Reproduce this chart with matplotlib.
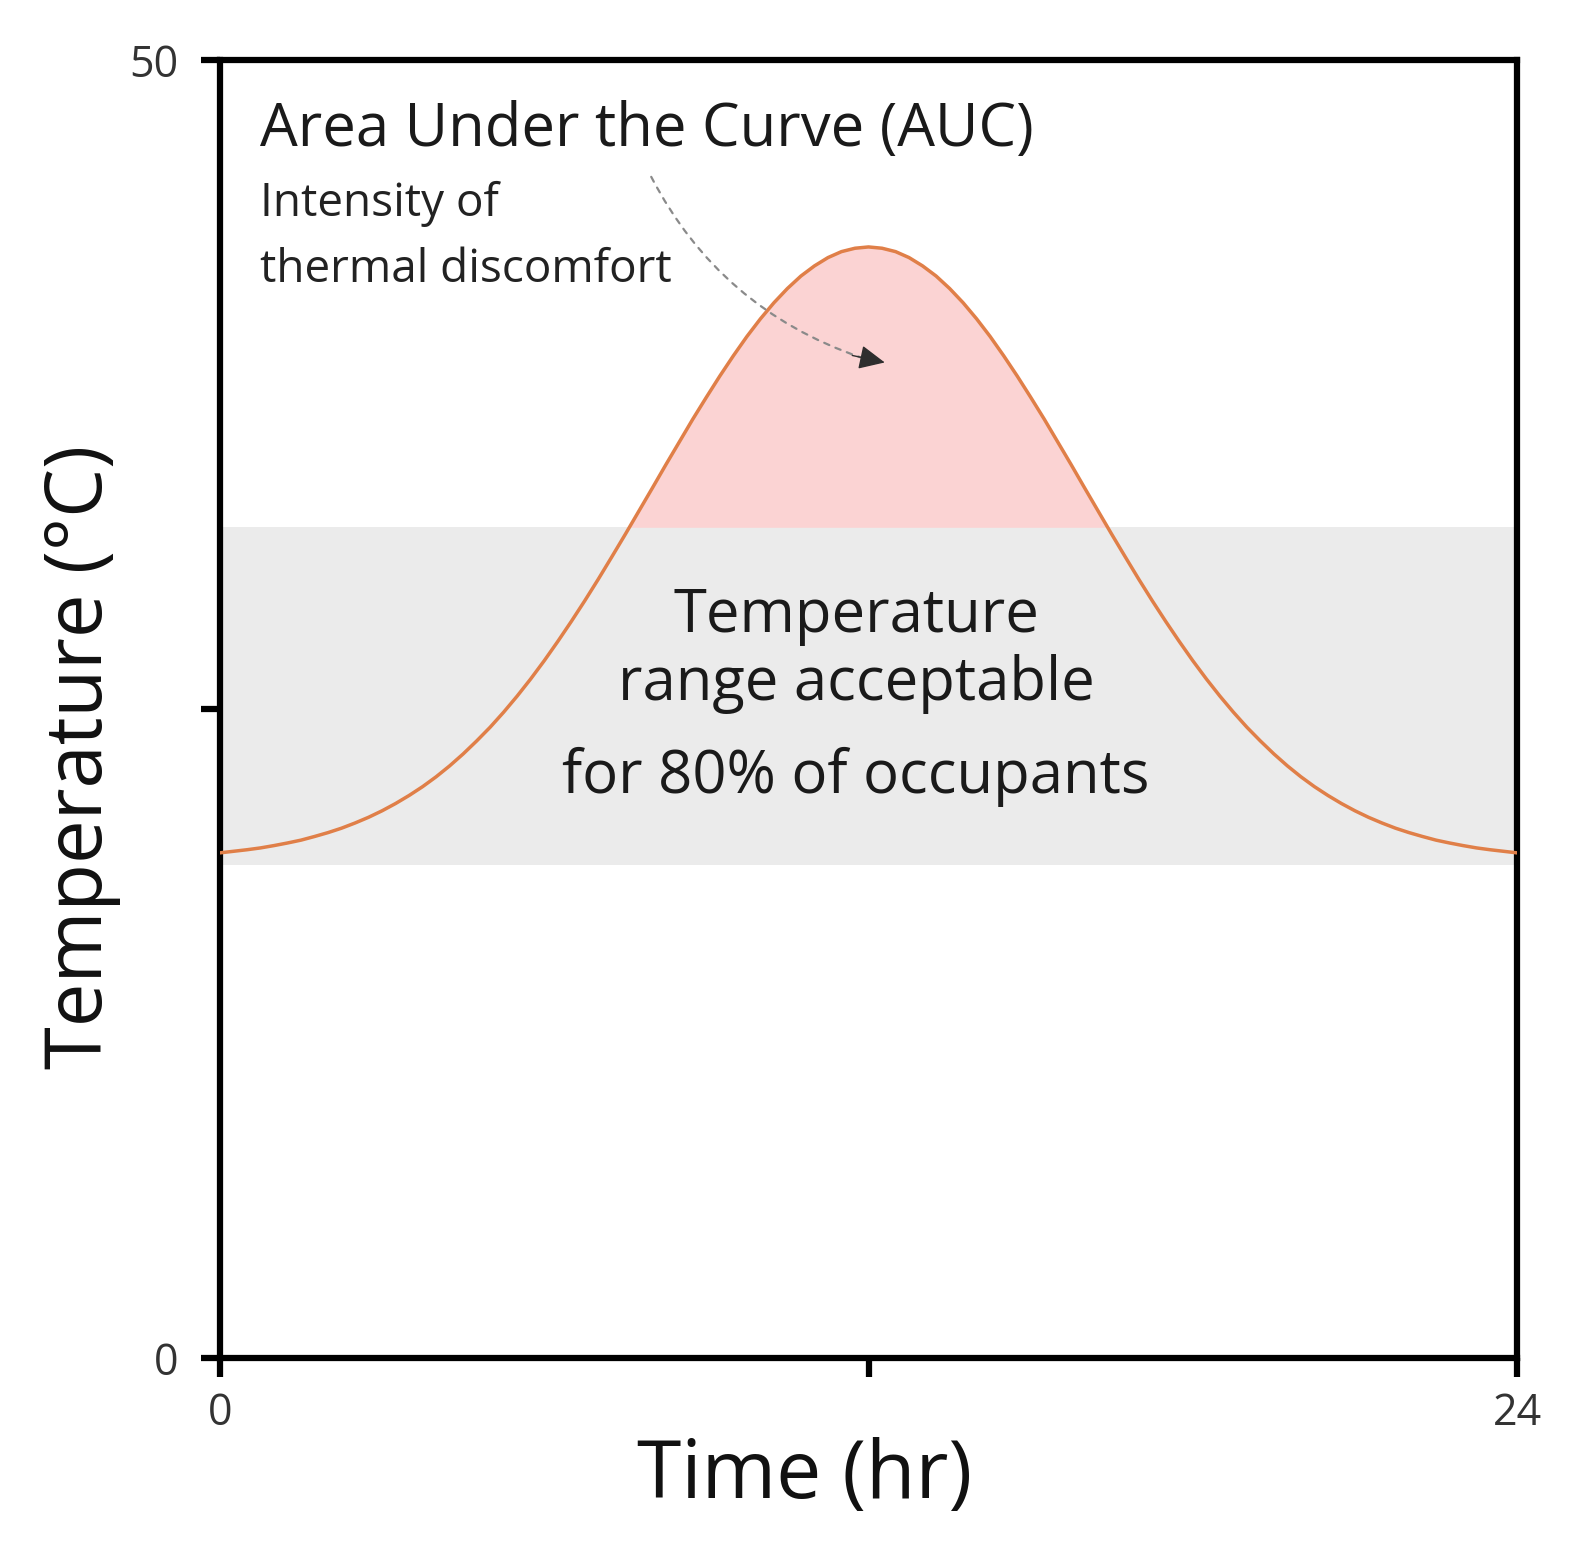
import matplotlib
matplotlib.use("Agg")
import matplotlib.pyplot as plt
import numpy as np

plt.rcParams['font.family'] = ['Open Sans', 'DejaVu Sans']

# Data (hours, °C): rising half of the symmetric curve
hours = [i * 0.25 for i in range(97)]
temps_rising = [19.46, 19.52, 19.58, 19.65, 19.74, 19.84, 19.95, 20.09, 20.24, 20.41,
                20.61, 20.83, 21.08, 21.36, 21.67, 22.01, 22.39, 22.81, 23.27, 23.77,
                24.30, 24.88, 25.50, 26.16, 26.86, 27.60, 28.37, 29.17, 30.00, 30.86,
                31.73, 32.62, 33.51, 34.41, 35.29, 36.17, 37.01, 37.83, 38.61, 39.35,
                40.03, 40.65, 41.20, 41.68, 42.07, 42.39, 42.62, 42.75, 42.80]
temps = temps_rising + temps_rising[-2::-1]

comfort_low = 19.0
comfort_high = 32.0
x_ticks = [0, 12, 24]
x_ticklabels = ["0", "", "24"]
y_ticks = [0, 25, 50]
y_ticklabels = ["0", "", "50"]

fig = plt.figure(figsize=(15.82, 15.51), dpi=100)
ax = fig.add_axes([0.139, 0.1244, 0.820, 0.8369])

x = np.array(hours)
y = np.array(temps)

ax.axhspan(comfort_low, comfort_high, color='#ebebeb', lw=0, zorder=0)
ax.fill_between(x, comfort_high, y, where=y > comfort_high, interpolate=True,
                color='#fbd3d3', lw=0, zorder=1)
ax.plot(x, y, color='#e07f48', lw=2.5, zorder=3, solid_joinstyle='round')

ax.set_xlim(0, 24)
ax.set_ylim(0, 50)
ax.set_xticks(x_ticks)
ax.set_xticklabels(x_ticklabels)
ax.set_yticks(y_ticks)
ax.set_yticklabels(y_ticklabels)

for s in ax.spines.values():
    s.set_linewidth(4.5)
    s.set_color('black')
ax.tick_params(axis='y', direction='out', length=14, width=4.5, labelsize=31,
               labelcolor='#333333', pad=16)
ax.tick_params(axis='x', direction='out', length=14, width=4.5, labelsize=31,
               labelcolor='#333333', pad=10)

fig.text(805 / 1582, 1 - 1477 / 1551, "Time (hr)", fontsize=58, ha='center', va='center',
         color='#111111')
fig.text(82 / 1582, 1 - 757 / 1551, "Temperature (°C)", fontsize=56, ha='center',
         va='center', rotation=90, color='#111111')

ax.text(0.74, 47.3, "Area Under the Curve (AUC)", fontsize=43, va='center', ha='left',
        color='#1a1a1a')
ax.text(0.74, 44.45, "Intensity of", fontsize=33, va='center', ha='left', color='#222222')
ax.text(0.74, 41.9, "thermal discomfort", fontsize=33, va='center', ha='left',
        color='#222222')

ax.text(11.77, 28.6, "Temperature", fontsize=43, ha='center', va='center', color='#1a1a1a')
ax.text(11.77, 25.95, "range acceptable", fontsize=43, ha='center', va='center',
        color='#1a1a1a')
ax.text(11.77, 22.4, "for 80% of occupants", fontsize=43, ha='center', va='center',
        color='#1a1a1a')

# dashed connector
ax.annotate("", xy=(11.85, 38.55), xytext=(7.98, 45.5),
            arrowprops=dict(arrowstyle='-', linestyle=(0, (2.5, 3)), color='#8a8a8a',
                            lw=1.6, connectionstyle='arc3,rad=0.2', shrinkA=0, shrinkB=0),
            zorder=4)
# arrow head
ax.annotate("", xy=(12.3, 38.35), xytext=(11.7, 38.62),
            arrowprops=dict(arrowstyle='-|>,head_length=1.6,head_width=0.75',
                            color='#2e2e2e', lw=1.0, shrinkA=0, shrinkB=0),
            zorder=5)

fig.savefig("out.png", dpi=100)
